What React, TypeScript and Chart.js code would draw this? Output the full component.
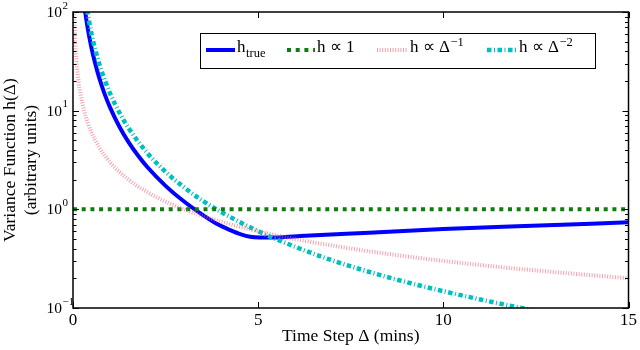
import React, { useEffect, useRef } from 'react';
import { Chart, registerables } from 'chart.js';

Chart.register(...registerables);

// h_true: measured variance function
const trueX = [0.28, 0.3, 0.4, 0.5, 0.6, 0.7, 0.85, 1.0, 1.25, 1.5, 1.75, 2.0, 2.5, 3.0, 3.5, 3.92, 4.244, 4.514, 4.784, 5.054, 5.323, 5.728, 6.133, 8, 10, 12, 15];
const trueH = [138, 120, 67.5, 43.2, 30, 22.0, 14.9, 10.8, 6.91, 4.8, 3.53, 2.7, 1.73, 1.2, 0.88, 0.70, 0.616, 0.562, 0.527, 0.518, 0.517, 0.524, 0.536, 0.58, 0.631, 0.674, 0.738];

// h ∝ 1
const flatX = [0, 15];
const flatH = [1, 1];

// h ∝ Δ^-1
const inv1X = [0.028, 0.05, 0.1, 0.15, 0.2, 0.3, 0.4, 0.5, 0.7, 1, 1.5, 2, 2.5, 3, 4, 5, 6, 7, 8, 10, 12, 15];
const inv1H = [107, 60, 30, 20, 15, 10, 7.5, 6, 4.29, 3, 2, 1.5, 1.2, 1, 0.75, 0.6, 0.5, 0.43, 0.375, 0.3, 0.25, 0.2];

// h ∝ Δ^-2
const inv2X = [0.38, 0.5, 0.6, 0.75, 1, 1.25, 1.5, 2, 2.5, 3, 3.5, 4, 5, 6, 7, 8, 9, 10, 11, 12, 12.5];
const inv2H = [104, 60, 41.7, 26.7, 15, 9.6, 6.67, 3.75, 2.4, 1.67, 1.22, 0.94, 0.6, 0.417, 0.304, 0.232, 0.183, 0.148, 0.122, 0.102, 0.094];

const xTickValues = [0, 5, 10, 15];
const yTickValues = [0.1, 1, 10, 100];
const yTickExponents = ['\u22121', '0', '1', '2'];

const legendMain = ['h', 'h \u221D 1', 'h \u221D \u0394', 'h \u221D \u0394'];
const legendSub = ['true', '', '', ''];
const legendSup = ['', '', '\u22121', '\u22122'];

const xTitle = 'Time Step \u0394 (mins)';
const yTitle = ['Variance Function h(\u0394)', '(arbitrary units)'];

const SERIF = '"Liberation Serif", "Times New Roman", serif';

const toPoints = (xs: number[], ys: number[]) => xs.map((x, i) => ({ x, y: ys[i] }));

const styles = [
  { color: '#0000ff', width: 4, dash: [] as number[] },
  { color: '#0a7f0a', width: 4, dash: [4, 4.7] },
  { color: 'rgba(232,100,120,0.6)', width: 4, dash: [1, 1.6] },
  { color: '#00bfbf', width: 4.5, dash: [4.5, 2.5, 1, 2.5] },
];

const framePlugin = {
  id: 'frameTicks',
  afterDatasetsDraw(chart: any) {
    const { ctx, chartArea: a, scales } = chart;
    const x = scales.x;
    const y = scales.y;
    ctx.save();
    ctx.strokeStyle = '#000';
    ctx.lineWidth = 1.5;
    ctx.setLineDash([]);
    ctx.strokeRect(a.left, a.top, a.right - a.left, a.bottom - a.top);
    ctx.lineWidth = 1;
    ctx.beginPath();
    for (const v of xTickValues) {
      const px = Math.round(x.getPixelForValue(v)) + 0.5;
      ctx.moveTo(px, a.bottom); ctx.lineTo(px, a.bottom - 6);
      ctx.moveTo(px, a.top); ctx.lineTo(px, a.top + 6);
    }
    for (let d = 0; d < yTickValues.length; d++) {
      const base = yTickValues[d];
      const py = Math.round(y.getPixelForValue(base)) + 0.5;
      ctx.moveTo(a.left, py); ctx.lineTo(a.left + 6, py);
      ctx.moveTo(a.right, py); ctx.lineTo(a.right - 6, py);
      if (d < yTickValues.length - 1) {
        for (let k = 2; k <= 9; k++) {
          const q = Math.round(y.getPixelForValue(base * k)) + 0.5;
          ctx.moveTo(a.left, q); ctx.lineTo(a.left + 3.5, q);
          ctx.moveTo(a.right, q); ctx.lineTo(a.right - 3.5, q);
        }
      }
    }
    ctx.stroke();
    ctx.restore();
  },
  afterDraw(chart: any) {
    const { ctx, chartArea: a, scales } = chart;
    const y = scales.y;
    ctx.save();
    ctx.fillStyle = '#000';
    // log-axis labels with raised exponents
    yTickValues.forEach((v, i) => {
      const py = y.getPixelForValue(v);
      ctx.font = `15.5px ${SERIF}`;
      ctx.textAlign = 'right';
      ctx.textBaseline = 'middle';
      ctx.fillText('10', a.left - 11, py + 1);
      ctx.font = `11px ${SERIF}`;
      ctx.textAlign = 'left';
      ctx.textBaseline = 'alphabetic';
      ctx.fillText(yTickExponents[i], a.left - 10.5, py - 3.5);
    });

    // legend box
    const box = { left: 200.5, top: 33.5, w: 395, h: 35 };
    ctx.fillStyle = '#fff';
    ctx.fillRect(box.left, box.top, box.w, box.h);
    ctx.strokeStyle = '#000';
    ctx.lineWidth = 1;
    ctx.setLineDash([]);
    ctx.strokeRect(box.left, box.top, box.w, box.h);
    const sampleStart = [206, 287, 377, 487];
    const sampleLen = [29, 28, 31, 30];
    const lineY = 50;
    const base = 52;
    legendMain.forEach((label, i) => {
      const st = styles[i];
      ctx.save();
      ctx.strokeStyle = st.color;
      ctx.lineWidth = st.width;
      ctx.setLineDash(st.dash);
      ctx.lineCap = 'butt';
      ctx.beginPath();
      ctx.moveTo(sampleStart[i], lineY);
      ctx.lineTo(sampleStart[i] + sampleLen[i], lineY);
      ctx.stroke();
      ctx.restore();
      let tx = sampleStart[i] + sampleLen[i] + 2;
      ctx.fillStyle = '#000';
      ctx.textAlign = 'left';
      ctx.textBaseline = 'alphabetic';
      ctx.font = `17px ${SERIF}`;
      ctx.fillText(label, tx, base);
      tx += ctx.measureText(label).width + 0.5;
      if (legendSub[i]) {
        ctx.font = `12.5px ${SERIF}`;
        ctx.fillText(legendSub[i], tx, base + 5);
      }
      if (legendSup[i]) {
        ctx.font = `12.5px ${SERIF}`;
        ctx.fillText(legendSup[i], tx, base - 6.5);
      }
    });
    ctx.restore();
  },
};

export default function App() {
  const canvasRef = useRef<HTMLCanvasElement | null>(null);

  useEffect(() => {
    const canvas = canvasRef.current;
    if (!canvas) return;
    const series = [
      toPoints(trueX, trueH),
      toPoints(flatX, flatH),
      toPoints(inv1X, inv1H),
      toPoints(inv2X, inv2H),
    ];
    const names = ['h_true', 'h \u221D 1', 'h \u221D \u0394^-1', 'h \u221D \u0394^-2'];
    // draw order: pink, green, cyan, blue on top
    const order = [3, 1, 0, 2];
    const chart = new Chart(canvas, {
      type: 'line',
      data: {
        datasets: series.map((data, i) => ({
          label: names[i],
          data,
          borderColor: styles[i].color,
          borderWidth: styles[i].width,
          borderDash: styles[i].dash,
          borderCapStyle: 'butt',
          pointRadius: 0,
          fill: false,
          cubicInterpolationMode: 'monotone',
          clip: 0,
          order: order[i],
        })),
      },
      options: {
        animation: false,
        responsive: false,
        devicePixelRatio: 1,
        layout: { padding: { top: 12, right: 11.5, left: 0, bottom: 0 } },
        plugins: { legend: { display: false }, tooltip: { enabled: false } },
        scales: {
          x: {
            type: 'linear',
            min: 0,
            max: 15,
            grid: { display: false, drawTicks: false },
            border: { display: false },
            ticks: {
              stepSize: 5,
              color: '#000',
              padding: 2,
              font: { family: SERIF, size: 17 },
              maxRotation: 0,
            },
            title: {
              display: true,
              text: xTitle,
              color: '#000',
              font: { family: SERIF, size: 17.5 },
              padding: { top: 0, bottom: 3 },
            },
            afterFit: (s: any) => { s.height = 42; },
          },
          y: {
            type: 'logarithmic',
            min: 0.1,
            max: 100,
            grid: { display: false, drawTicks: false },
            border: { display: false },
            ticks: { display: false },
            title: {
              display: true,
              text: yTitle,
              color: '#000',
              font: { family: SERIF, size: 17.5, lineHeight: 1.2 },
              padding: { top: 0, bottom: 0 },
            },
            afterFit: (s: any) => { s.width = 73; },
          },
        },
      },
      plugins: [framePlugin],
    } as any);
    return () => chart.destroy();
  }, []);

  return (
    <div style={{ position: 'fixed', left: 0, top: 0, width: 640, height: 350, background: '#fff' }}>
      <canvas ref={canvasRef} width={640} height={350} style={{ width: 640, height: 350, display: 'block' }} />
    </div>
  );
}
